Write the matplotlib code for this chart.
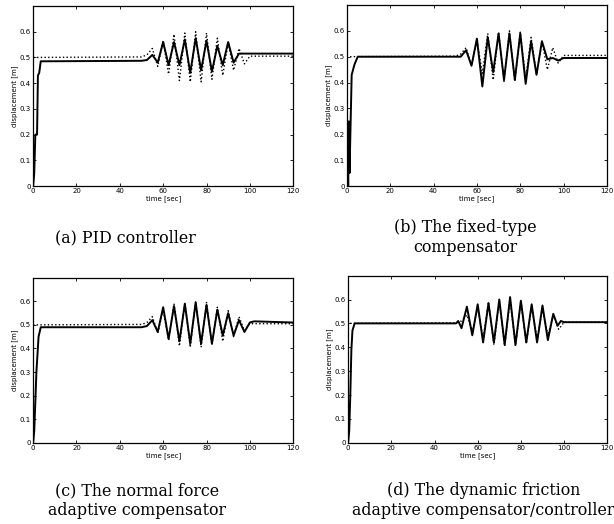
import matplotlib.pyplot as plt

# reference (desired) trajectory, dotted line, same in all panels
t_ref = [0, 0, 50, 52.5, 55, 57.5, 60, 62.5, 65, 67.5, 70, 72.5, 75, 77.5,
         80, 82.5, 85, 87.5, 90, 92.5, 95, 97.5, 100, 120]
y_ref = [0, 0.5, 0.502, 0.51, 0.535, 0.465, 0.565, 0.435, 0.59, 0.41, 0.595, 0.405,
         0.60, 0.405, 0.595, 0.415, 0.575, 0.43, 0.56, 0.45, 0.535, 0.475, 0.505, 0.505]

# (a) PID controller
t_a = [0, 0.5, 1, 1.8, 2.2, 2.8, 3.5, 50, 52.5, 55, 57.5, 60, 62.5, 65, 67.5, 70,
       72.5, 75, 77.5, 80, 82.5, 85, 87.5, 90, 92.5, 95, 96, 120]
y_a = [0, 0.05, 0.2, 0.2, 0.43, 0.44, 0.485, 0.487, 0.49, 0.51, 0.48, 0.56, 0.47,
       0.56, 0.47, 0.57, 0.44, 0.575, 0.45, 0.565, 0.445, 0.545, 0.47, 0.56, 0.48,
       0.515, 0.515, 0.515]

# (b) fixed-type compensator
t_b = [0, 0.3, 0.6, 0.9, 1.2, 2.2, 3.5, 5, 50, 52.5, 55, 57.5, 60, 62.5, 65, 67.5,
       70, 72.5, 75, 77.5, 80, 82.5, 85, 87.5, 90, 92.5, 95, 97.5, 100, 120]
y_b = [0, 0.12, 0.0, 0.25, 0.05, 0.43, 0.47, 0.5, 0.5, 0.5, 0.525, 0.465, 0.57,
       0.385, 0.575, 0.44, 0.59, 0.41, 0.59, 0.41, 0.59, 0.395, 0.56, 0.43, 0.56,
       0.49, 0.495, 0.485, 0.495, 0.495]

# (c) normal force adaptive compensator
t_c = [0, 0.5, 1.5, 2.5, 3.5, 50, 52.5, 55, 57.5, 60, 62.5, 65, 67.5, 70, 72.5,
       75, 77.5, 80, 82.5, 85, 87.5, 90, 92.5, 95, 97.5, 100, 102, 120]
y_c = [0, 0.05, 0.3, 0.45, 0.49, 0.49, 0.495, 0.52, 0.47, 0.575, 0.44, 0.58, 0.43,
       0.59, 0.42, 0.595, 0.42, 0.585, 0.42, 0.565, 0.455, 0.55, 0.455, 0.52, 0.47,
       0.51, 0.515, 0.51]

# (d) dynamic friction adaptive compensator/controller
t_d = [0, 0.5, 1, 1.5, 2, 3, 50, 51, 52.5, 55, 57.5, 60, 62.5, 65, 67.5, 70, 72.5,
       75, 77.5, 80, 82.5, 85, 87.5, 90, 92.5, 95, 97, 98.5, 100, 120]
y_d = [0, 0.05, 0.2, 0.39, 0.47, 0.5, 0.5, 0.51, 0.48, 0.57, 0.45, 0.58, 0.42,
       0.585, 0.42, 0.60, 0.41, 0.61, 0.41, 0.595, 0.42, 0.58, 0.42, 0.575, 0.43,
       0.54, 0.49, 0.51, 0.505, 0.505]

captions = ["(a) PID controller",
            "(b) The fixed-type\ncompensator",
            "(c) The normal force\nadaptive compensator",
            "(d) The dynamic friction\nadaptive compensator/controller"]
xticks = [0, 20, 40, 60, 80, 100, 120]
yticks = [0, 0.1, 0.2, 0.3, 0.4, 0.5, 0.6]
ytick_labels = ["0", "0.1", "0.2", "0.3", "0.4", "0.5", "0.6"]

fig = plt.figure(figsize=(6.14, 5.24), dpi=100)

# axes boxes [left, bottom, width, height] and caption anchors
boxes = [[0.054, 0.645, 0.4235, 0.3435],
         [0.565, 0.645, 0.4235, 0.3455],
         [0.054, 0.155, 0.4235, 0.315],
         [0.567, 0.155, 0.422, 0.319]]
cap_pos = [(0.204, 0.546), (0.758, 0.547), (0.223, 0.045), (0.787, 0.045)]

series = [(t_a, y_a), (t_b, y_b), (t_c, y_c), (t_d, y_d)]

for i in range(4):
    ax = fig.add_axes(boxes[i])
    ax.plot(t_ref, y_ref, color='black', linestyle=':', linewidth=1.0)
    ax.plot(series[i][0], series[i][1], color='black', linewidth=1.4)
    ax.set_xlim(0, 120)
    ax.set_ylim(0, 0.7)
    ax.set_xticks(xticks)
    ax.set_yticks(yticks)
    ax.set_yticklabels(ytick_labels)
    ax.tick_params(direction='in', top=True, right=True, labelsize=5,
                   length=2.5, width=0.6, pad=1.5)
    ax.set_xlabel("time [sec]", fontsize=5, labelpad=1)
    ax.set_ylabel("displacement [m]", fontsize=5, labelpad=1)
    for s in ax.spines.values():
        s.set_linewidth(0.9)
    fig.text(cap_pos[i][0], cap_pos[i][1], captions[i], ha='center', va='center',
             fontsize=11.4, family='DejaVu Serif', linespacing=1.2)

fig.savefig("out.png", dpi=100)
